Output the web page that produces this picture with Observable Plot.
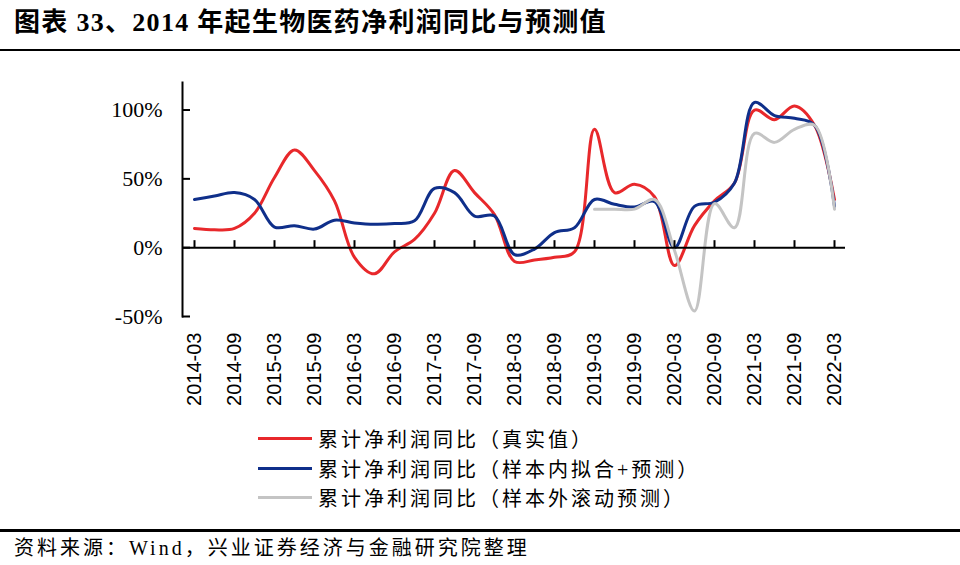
<!DOCTYPE html>
<html><head><meta charset="utf-8">
<script src="https://cdn.jsdelivr.net/npm/d3@7"></script>
<script src="https://cdn.jsdelivr.net/npm/@observablehq/plot@0.6"></script>
<style>
body{margin:0;background:#fff;}
#wrap{position:relative;width:960px;height:565px;overflow:hidden;color:#000;font-family:"Noto Sans CJK SC",sans-serif;background:#fff;}
#chart{position:absolute;left:0;top:0;z-index:1;}
#title{position:absolute;left:14px;top:7px;z-index:2;font-size:26px;line-height:32px;font-weight:bold;font-family:"Liberation Serif","Noto Sans CJK SC",serif;letter-spacing:1.3px;white-space:nowrap;}
#rule1{position:absolute;left:0;top:49px;width:960px;height:2px;background:#000;z-index:2;}
.lg{position:absolute;left:258px;height:26px;display:flex;align-items:center;white-space:nowrap;font-size:20px;letter-spacing:3px;font-family:"Liberation Serif","Noto Sans CJK SC",serif;z-index:2;}
.lg span.sw{display:inline-block;width:54px;height:3px;margin-right:6px;}
#rule2{position:absolute;left:0;top:529px;width:960px;height:3px;background:#000;z-index:2;}
#source{position:absolute;left:14px;top:535px;z-index:2;font-size:20px;line-height:26px;letter-spacing:3px;white-space:nowrap;font-family:"Liberation Serif","Noto Sans CJK SC",serif;}
</style></head>
<body>
<div id="wrap">
  <div id="chart"></div>
  <div id="title">图表 33、2014 年起生物医药净利润同比与预测值</div>
  <div id="rule1"></div>
  <div id="legend"></div>
  <div id="rule2"></div>
  <div id="source">资料来源：Wind，兴业证券经济与金融研究院整理</div>
</div>
<script>
const quarters = [
  "2014-03","2014-06","2014-09","2014-12",
  "2015-03","2015-06","2015-09","2015-12",
  "2016-03","2016-06","2016-09","2016-12",
  "2017-03","2017-06","2017-09","2017-12",
  "2018-03","2018-06","2018-09","2018-12",
  "2019-03","2019-06","2019-09","2019-12",
  "2020-03","2020-06","2020-09","2020-12",
  "2021-03","2021-06","2021-09","2021-12",
  "2022-03"
];
const tickQuarters = ["2014-03","2014-09","2015-03","2015-09","2016-03","2016-09","2017-03","2017-09","2018-03","2018-09","2019-03","2019-09","2020-03","2020-09","2021-03","2021-09","2022-03"];
const yTicks = [-50, 0, 50, 100];

// 累计净利润同比（真实值）
const realValues = [14, 13, 14, 25, 51, 71, 56, 34, -7, -19, -3, 6, 25, 56, 40, 24, -10, -9, -7, -3, 86, 40, 46, 37, -13, 16, 34, 47, 100, 93, 103, 89, 35];
// 累计净利润同比（样本内拟合+预测）
const fitValues = [35, 37.5, 40, 35, 15, 16, 13.5, 20, 18, 17, 17.5, 19.5, 43, 40, 23, 23, -5, -1, 11, 14.5, 35, 31.5, 29.5, 33.5, 0, 30, 33, 47, 105.5, 96, 94, 89, 30];
// 累计净利润同比（样本外滚动预测）
const oosValues = [null, null, null, null, null, null, null, null, null, null, null, null, null, null, null, null, null, null, null, null, 28, 28, 28, 35, -2, -46, 32, 14.5, 83, 76.5, 86, 89, 28];

const seriesNames = ["累计净利润同比（真实值）", "累计净利润同比（样本内拟合+预测）", "累计净利润同比（样本外滚动预测）"];
const seriesColors = ["#e8282b", "#0f2f8a", "#c4c4c4"];

const toRows = (vals) => vals.map((v, i) => ({q: quarters[i], v}));

const W = 960, H = 425, ML = 182, MR = 115, MT = 82, MB = 109;
const frameW = W - ML - MR, frameH = H - MT - MB;
const yDomain = [-50, 120];
const y0px = MT + (yDomain[1] - 0) / (yDomain[1] - yDomain[0]) * frameH;

const chart = Plot.plot({
  width: W, height: H,
  marginLeft: ML, marginRight: MR, marginTop: MT, marginBottom: MB,
  style: {background: "transparent", color: "#000", overflow: "visible"},
  x: {type: "point", domain: quarters, padding: 0, axis: null},
  y: {domain: yDomain, axis: null},
  marks: [
    Plot.axisY({ticks: yTicks, tickSize: 0, tickPadding: 20, tickFormat: d => d + "%", fontSize: 22, fontFamily: "Liberation Serif", fill: "#000", label: null}),
    Plot.axisX({ticks: tickQuarters, tickSize: 0, tickPadding: 16, tickRotate: -90, fontSize: 20, fontFamily: "Liberation Sans", fill: "#000", label: null}),
    Plot.line(toRows(realValues), {x: "q", y: "v", stroke: seriesColors[0], strokeWidth: 3, curve: "catmull-rom"}),
    Plot.line(toRows(fitValues), {x: "q", y: "v", stroke: seriesColors[1], strokeWidth: 3, curve: "catmull-rom"}),
    Plot.line(toRows(oosValues).filter(d => d.v !== null), {x: "q", y: "v", stroke: seriesColors[2], strokeWidth: 3, curve: "catmull-rom"}),
    Plot.ruleY([0], {stroke: "#000", strokeWidth: 2}),
    Plot.frame({anchor: "left", stroke: "#000", strokeWidth: 2}),
    Plot.tickY(yTicks, {y: d => d, stroke: "#000", strokeWidth: 2, insetRight: frameW - 8}),
    Plot.tickX(tickQuarters, {x: d => d, stroke: "#000", strokeWidth: 2, insetTop: y0px - MT - 7, insetBottom: H - MB - y0px})
  ]
});
document.getElementById("chart").appendChild(chart);

const legend = document.getElementById("legend");
const rowCenters = [438, 468, 497];
seriesNames.forEach((name, i) => {
  const row = document.createElement("div");
  row.className = "lg";
  row.style.top = (rowCenters[i] - 13) + "px";
  const sw = document.createElement("span");
  sw.className = "sw";
  sw.style.background = seriesColors[i];
  row.appendChild(sw);
  const t = document.createElement("span");
  t.textContent = name;
  row.appendChild(t);
  legend.appendChild(row);
});
</script>
</body></html>
